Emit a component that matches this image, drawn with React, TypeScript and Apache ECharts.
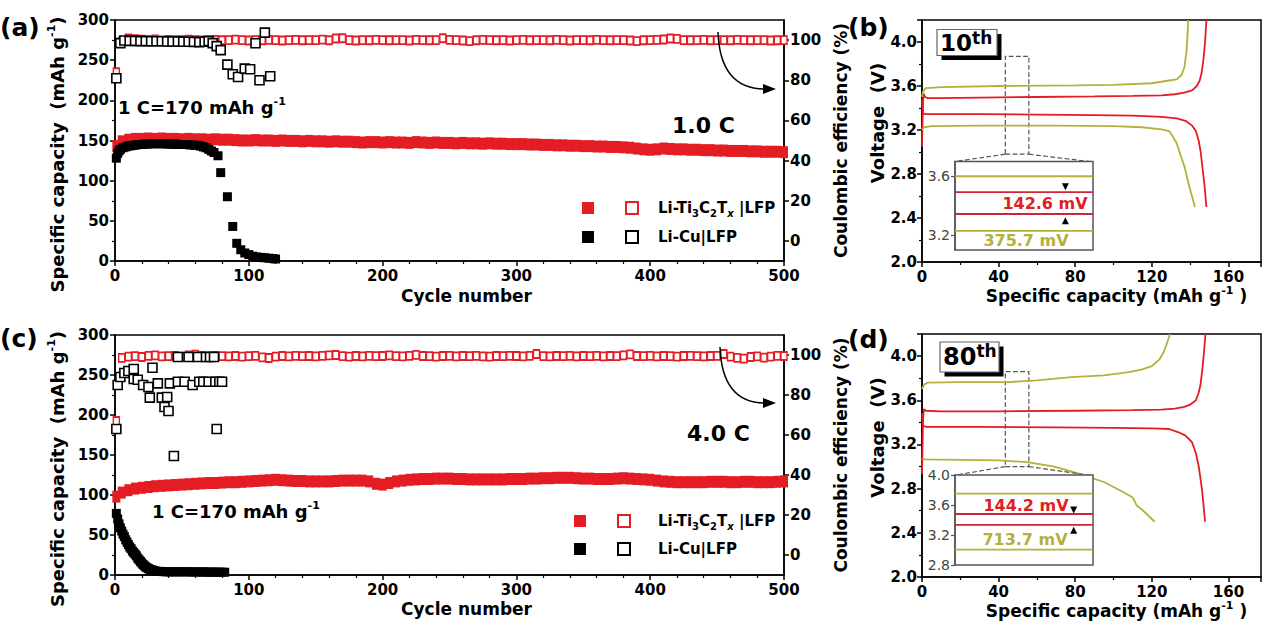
import React, { useEffect, useRef } from 'react';
import * as echarts from 'echarts';

const RED = '#e41c24';
const OLIVE = '#b3b13a';
const INSET_RED = '#cd2638';
const FONT = 'DejaVu Sans';

// ---------------- panels (a)/(c): cycle numbers of the Li-Ti3C2Tx|LFP points ----------------
const cycles5 = [1, 5, 10, 15, 20, 25, 30, 35, 40, 45, 50, 55, 60, 65, 70, 75, 80, 85, 90, 95,
  100, 105, 110, 115, 120, 125, 130, 135, 140, 145, 150, 155, 160, 165, 170, 175, 180, 185, 190, 195,
  200, 205, 210, 215, 220, 225, 230, 235, 240, 245, 250, 255, 260, 265, 270, 275, 280, 285, 290, 295,
  300, 305, 310, 315, 320, 325, 330, 335, 340, 345, 350, 355, 360, 365, 370, 375, 380, 385, 390, 395,
  400, 405, 410, 415, 420, 425, 430, 435, 440, 445, 450, 455, 460, 465, 470, 475, 480, 485, 490, 495, 500];

// (a) 1.0 C
const tiCapA = [143, 149, 151, 152, 152, 152.5, 152, 152.5, 152, 152,
  151.5, 152, 151.5, 151.5, 151, 151.5, 151, 151, 150.5, 150,
  150, 150.5, 150, 150, 149.5, 150, 149.5, 149.5, 149, 149.5,
  149, 149, 148.5, 149, 148.5, 148.5, 148, 147.5, 148, 148,
  147.5, 148, 147.5, 147.5, 147, 148, 147.5, 147, 147.5, 147,
  147, 146.5, 147, 146.5, 146.5, 146, 146.5, 146, 146, 145.5,
  145.5, 145.5, 145, 145, 144.5, 144.5, 144, 144, 143.5, 143.5,
  143, 143, 142.5, 142.5, 142, 142, 141.5, 141, 140, 139,
  138.5, 139, 140, 139.5, 139, 139, 138.5, 138.5, 138, 138,
  137.5, 137.5, 137, 137, 137, 136.5, 136.5, 136, 136, 136,
  135.5];
const tiCeA = [84, 99.2, 100.8, 100.5, 100.2, 100, 100.3, 99.8, 100.1, 100,
  99.9, 100.2, 100, 99.8, 100, 100.1, 99.9, 100, 100.2, 100,
  99.8, 100, 99.9, 100.1, 100, 99.8, 100, 100.1, 99.9, 100,
  100, 100.2, 99.9, 100.8, 100.9, 100, 99.8, 100, 99.9, 100.1,
  100, 99.9, 100, 100, 99.8, 100.1, 100, 99.9, 100, 100.9,
  100.1, 100, 99.8, 99.5, 99.9, 100.1, 100, 99.9, 100, 99.8,
  100, 100.1, 99.9, 100, 100, 99.9, 100.1, 100, 99.8, 100,
  100, 99.9, 100.1, 100, 99.9, 100, 100, 99.8, 99.5, 99.9,
  100, 100.1, 100.3, 100.8, 100.6, 100, 99.9, 100, 100.1, 99.9,
  100, 100, 99.9, 100.1, 100, 99.9, 100, 100, 99.8, 99.9,
  100];
const cuCapACycles = [1, 2, 3, 4, 6, 8, 10, 12, 14, 16, 18, 20, 22, 24, 26, 28, 30, 32, 34, 36, 38, 40,
  42, 44, 46, 48, 50, 52, 54, 56, 58, 60, 62, 64, 66, 68, 70, 72, 74,
  77, 79, 84, 88, 91, 94, 97, 100, 103, 106, 109, 112, 115, 118, 120];
const cuCapA = [128, 134, 137, 139, 141, 142, 143, 143.5, 144, 144.5, 145, 145, 145.5, 145.5,
  146, 146, 146, 146, 146, 146, 146, 145.5, 145.5, 145.5, 145.5, 145, 145, 145, 145,
  144.5, 144.5, 144, 144, 143, 142, 141, 139, 137, 135,
  131, 110, 80, 43, 22, 14, 10, 8, 6, 5, 4.5, 4, 3.5, 3, 2.5];
const cuCeACycles = [1, 4, 7, 11, 15, 19, 23, 27, 31, 35, 39, 43, 47, 51, 55, 59, 63, 67, 70, 73,
  76, 79, 84, 88, 92, 97, 101, 105, 108, 112, 116];
const cuCeA = [81, 98.5, 99.8, 99.6, 99.6, 99.5, 99.5, 99.4, 99.4, 99.4, 99.3, 99.3, 99.3, 99.2, 99.2,
  99.1, 99, 99.2, 99.5, 98.5, 97, 95, 87.8, 83, 81.6, 85.8, 85.5, 98.4, 80, 103.7, 82];

// (c) 4.0 C
const tiCapC = [98, 103, 106, 108, 109, 110, 111, 111.5, 112, 112.5,
  113, 113.5, 114, 114.5, 115, 115, 115.5, 116, 116, 116.5,
  117, 117.5, 118, 118.5, 119, 118.5, 118, 117.5, 117.5, 117,
  117, 117, 117, 117.5, 118, 118, 118, 118, 117, 114,
  113, 115, 117, 118, 119, 119.5, 120, 120, 120.5, 120.5,
  120.5, 120, 120, 119.5, 119.5, 119.5, 119.5, 119.5, 119.5, 120,
  120, 120, 120.5, 120.5, 121, 121, 121.5, 121.5, 121.5, 121,
  120.5, 120.5, 120, 120, 120, 120.5, 121, 120.5, 120, 119.5,
  119, 118, 117, 116.5, 116, 116, 116, 116, 116, 116.5,
  116.5, 116.5, 116, 116, 116.5, 116.5, 116, 116, 116, 116.5,
  117];
const tiCeC = [67, 98.6, 99.2, 99.4, 99, 99.6, 99.8, 99.3, 99.4, 99.6,
  99.2, 99.8, 100.2, 99.5, 99.3, 99.6, 99.4, 99.3, 99.5, 99.2,
  99.4, 99.6, 98.8, 98.5, 99.2, 99.5, 99.3, 99.6, 99.4, 99.5,
  99.3, 99.6, 99.8, 100, 99.4, 99.2, 99.5, 99.3, 99.6, 99.4,
  99.5, 99.8, 99.4, 99.3, 99.6, 100.1, 99.5, 99.4, 99.2, 99.5,
  99.6, 99.3, 99.5, 99.4, 99.6, 99.3, 99.2, 99.5, 99.4, 99.6,
  99.5, 99.3, 99.6, 100.5, 99.4, 99.3, 99.5, 99.4, 99.6, 99.3,
  99.5, 99.4, 99.6, 99.3, 99.5, 99.4, 99.8, 100.3, 99.5, 99.4,
  99.6, 99.3, 99.5, 99.4, 99.2, 99.5, 99.6, 99.4, 99.3, 99.5,
  99.6, 100.5, 99.2, 98.6, 98.2, 99, 99.3, 98.7, 99.2, 99.6,
  99.5];
const cuCapCCycles = [1, 2, 3, 4, 5, 6, 7, 8, 9, 10, 11, 12, 13, 14, 15, 16, 17, 18, 19, 20,
  21, 22, 23, 24, 25, 26, 27, 28, 29, 30,
  32, 34, 36, 38, 40, 42, 44, 46, 48, 50, 52, 54, 56, 58, 60, 62, 64, 66, 68, 70, 72, 74, 76, 78, 80, 82];
const cuCapC = [77, 70, 64, 59, 55, 51, 48, 44, 41, 38, 35, 33, 30, 28, 26, 24, 21, 19, 17, 15,
  13, 11.5, 10, 9, 8, 7, 6.5, 6, 5.5, 5,
  4.5, 4.5, 4.2, 4, 4, 4, 4, 4, 4, 4, 4, 4, 4, 3.8, 3.8, 3.8, 3.8, 3.8, 3.8, 3.6, 3.6, 3.6, 3.6, 3.5, 3.5, 3.5];
const cuCeCCycles = [1, 2, 4, 7, 10, 14, 14, 17, 21, 25, 26, 28, 32, 35, 37, 39, 40, 41, 44, 47,
  47, 52, 55, 58, 62, 63, 66, 68, 70, 71, 74, 75, 76, 78, 80];
const cuCeC = [63, 85, 89, 91, 92, 88, 93, 87.6, 85, 84, 78.7, 93.6, 85.8, 78.7, 74, 79, 72, 85.8, 49.5, 99,
  86.6, 86.6, 99, 85, 99, 86.6, 86.6, 99, 86.6, 99, 99, 86.6, 63, 86.6, 86.6];

// ---------------- panels (b)/(d): voltage profiles [capacity, voltage] ----------------
const b10RedCharge = [[0, 3.05], [0.3, 3.3], [0.6, 3.48], [1, 3.53], [1.5, 3.5], [3, 3.49], [10, 3.49], [30, 3.495],
  [60, 3.5], [90, 3.505], [110, 3.51], [125, 3.515], [132, 3.525], [137, 3.54], [141, 3.56], [143.5, 3.6],
  [145, 3.65], [146, 3.72], [147, 3.85], [147.8, 4.0], [148.5, 4.2]];
const b10RedDischarge = [[0, 3.48], [0.5, 3.36], [1, 3.345], [5, 3.345], [30, 3.345], [60, 3.34], [90, 3.335],
  [110, 3.33], [125, 3.32], [133, 3.305], [138, 3.28], [141, 3.24], [143, 3.19], [144.5, 3.1], [145.5, 3.0],
  [146.5, 2.85], [147.5, 2.7], [148.5, 2.5]];
const b10OliveCharge = [[0, 3.5], [0.5, 3.55], [2, 3.58], [10, 3.59], [40, 3.6], [80, 3.605], [100, 3.61],
  [120, 3.625], [129, 3.65], [133, 3.66], [135.5, 3.7], [137, 3.77], [138, 3.9], [138.6, 4.05], [139, 4.2]];
const b10OliveDischarge = [[0, 3.2], [1, 3.225], [5, 3.235], [30, 3.24], [70, 3.24], [100, 3.235], [115, 3.225],
  [125, 3.205], [129, 3.19], [131, 3.14], [133, 3.08], [135, 2.97], [137, 2.87], [139.5, 2.69], [142.5, 2.5]];

const d80RedCharge = [[0, 2.93], [0.3, 3.2], [0.6, 3.45], [1, 3.52], [2, 3.505], [10, 3.5], [40, 3.5], [80, 3.505],
  [110, 3.51], [125, 3.515], [132, 3.525], [137, 3.54], [140, 3.56], [143, 3.6], [144.5, 3.67], [145.5, 3.75],
  [146.5, 3.9], [147.3, 4.05], [148, 4.2]];
const d80RedDischarge = [[0, 3.48], [0.5, 3.37], [2, 3.36], [30, 3.36], [70, 3.355], [100, 3.35], [120, 3.345],
  [129, 3.34], [134, 3.31], [137.6, 3.28], [141, 3.22], [143, 3.12], [144.5, 3.0], [145.5, 2.88], [146.2, 2.79],
  [147, 2.65], [147.8, 2.5]];
const d80OliveCharge = [[0, 3.7], [1, 3.74], [3, 3.76], [20, 3.765], [45, 3.765], [60, 3.78], [78, 3.81], [95, 3.825],
  [108, 3.855], [115, 3.88], [120, 3.91], [124, 3.97], [126, 4.03], [128, 4.12], [129.5, 4.2]];
const d80OliveDischarge = [[0, 3.07], [2, 3.065], [20, 3.06], [40, 3.055], [55, 3.04], [69, 3.0], [81, 2.94],
  [95, 2.86], [105, 2.77], [110, 2.72], [112, 2.65], [115.5, 2.6], [121.5, 2.5]];

// inset plateau voltages (upper, lower)
const insetBOlive = [3.6, 3.23];
const insetBRed = [3.492, 3.344];
const insetDOlive = [3.751, 3.004];
const insetDRed = [3.48, 3.334];

// tick labels
const ceTicks = [0, 20, 40, 60, 80, 100];
const insetBTicks = [3.2, 3.6];
const insetDTicks = [2.8, 3.2, 3.6, 4.0];

const zip = (xs: number[], ys: number[]) => xs.map((x, i) => [x, ys[i]]);

const richE = (size: number, color = '#000') => ({
  t: { fontFamily: FONT, fontWeight: 'bold', fontSize: size, color, lineHeight: Math.round(size * 1.3) },
  s: { fontFamily: FONT, fontWeight: 'bold', fontSize: Math.round(size * 0.62), color, verticalAlign: 'top', lineHeight: Math.round(size * 0.75) },
});
const richZ = (size: number, fill = '#000') => ({
  t: { fontFamily: FONT, fontWeight: 'bold', fontSize: size, fill, lineHeight: Math.round(size * 1.3) },
  s: { fontFamily: FONT, fontWeight: 'bold', fontSize: Math.round(size * 0.62), fill, verticalAlign: 'top', lineHeight: Math.round(size * 0.75) },
});

const axisLine = { show: true, onZero: false, lineStyle: { color: '#000', width: 1.5 } };
const tick = { show: true, length: 5, lineStyle: { color: '#000', width: 1.5 } };
const lbl = { color: '#000', fontFamily: FONT, fontWeight: 'bold', fontSize: 15 };

const cycleAxis = (gridIndex: number, nameGap: number) => ({
  type: 'value', gridIndex, min: 0, max: 500, interval: 100,
  axisLine, axisTick: tick,
  minorTick: { show: true, splitNumber: 5, length: 3, lineStyle: { color: '#000', width: 1.2 } },
  axisLabel: { ...lbl, margin: 7 },
  splitLine: { show: false },
  name: 'Cycle number', nameLocation: 'middle', nameGap,
  nameTextStyle: { color: '#000', fontFamily: FONT, fontWeight: 'bold', fontSize: 17, padding: [0, 0, 0, 34] },
});
const capAxis = (gridIndex: number) => ({
  type: 'value', gridIndex, min: 0, max: 300, interval: 50, position: 'left',
  axisLine, axisTick: tick,
  minorTick: { show: true, splitNumber: 2, length: 3, lineStyle: { color: '#000', width: 1.2 } },
  axisLabel: { ...lbl, margin: 6 },
  splitLine: { show: false },
  name: '{t|Specific capacity  (mAh g}{s|-1}{t|)}', nameLocation: 'middle', nameGap: 38, nameRotate: 90,
  nameTextStyle: { rich: richE(18), padding: [0, 28, 0, 0] },
});
const ceAxis = (gridIndex: number) => ({
  type: 'value', gridIndex, min: -10, max: 110, position: 'right',
  axisLine, axisTick: { ...tick, customValues: ceTicks },
  axisLabel: { ...lbl, margin: 6, customValues: ceTicks },
  splitLine: { show: false },
  name: 'Coulombic efficiency (%)', nameLocation: 'middle', nameGap: 33, nameRotate: 90,
  nameTextStyle: { color: '#000', fontFamily: FONT, fontWeight: 'bold', fontSize: 17 },
});
const specAxis = (gridIndex: number, nameGap: number) => ({
  type: 'value', gridIndex, min: 0, max: 177, interval: 40,
  axisLine, axisTick: tick,
  minorTick: { show: true, splitNumber: 2, length: 3, lineStyle: { color: '#000', width: 1.2 } },
  axisLabel: { ...lbl, margin: 7, formatter: (v: number) => (v > 170 ? '' : String(Math.round(v))) },
  splitLine: { show: false },
  name: '{t|Specific capacity (mAh g}{s|-1}{t| )}', nameLocation: 'middle', nameGap,
  nameTextStyle: { rich: richE(17), padding: [0, 0, 0, 50] },
});
const voltAxis = (gridIndex: number) => ({
  type: 'value', gridIndex, min: 2.0, max: 4.2, interval: 0.4,
  axisLine, axisTick: tick,
  minorTick: { show: true, splitNumber: 2, length: 3, lineStyle: { color: '#000', width: 1.2 } },
  axisLabel: { ...lbl, margin: 5, formatter: (v: number) => (v > 4.1 ? '' : v.toFixed(1)) },
  splitLine: { show: false },
  name: 'Voltage  (V)', nameLocation: 'middle', nameGap: 31, nameRotate: 90,
  nameTextStyle: { color: '#000', fontFamily: FONT, fontWeight: 'bold', fontSize: 18, padding: [0, 0, 0, 36] },
});
const insetX = (gridIndex: number) => ({
  type: 'value', gridIndex, min: 0, max: 100, z: 12,
  axisLine: { show: false }, axisTick: { show: false }, axisLabel: { show: false }, splitLine: { show: false },
});
const insetY = (gridIndex: number, min: number, max: number, ticks: number[]) => ({
  type: 'value', gridIndex, min, max, z: 12,
  axisLine: { show: true, onZero: false, lineStyle: { color: '#555', width: 1.5 } },
  axisTick: { show: true, length: 4, customValues: ticks, lineStyle: { color: '#555', width: 1.2 } },
  axisLabel: { customValues: ticks, color: '#444', fontFamily: FONT, fontWeight: 'normal', fontSize: 14, margin: 5, formatter: (v: number) => v.toFixed(1) },
  splitLine: { show: false },
});

const NAMES = {
  tiCap: 'Li-Ti3C2Tx|LFP capacity',
  tiCe: 'Li-Ti3C2Tx|LFP coulombic efficiency',
  cuCap: 'Li-Cu|LFP capacity',
  cuCe: 'Li-Cu|LFP coulombic efficiency',
};

const filledSq = (name: string, xi: number, yi: number, data: number[][], color: string, size: any) => ({
  type: 'scatter', name, xAxisIndex: xi, yAxisIndex: yi, data, symbol: 'rect', symbolSize: size,
  itemStyle: { color, opacity: 1 }, z: 3,
});
const openSq = (name: string, xi: number, yi: number, data: number[][], color: string, size: any) => ({
  type: 'scatter', name, xAxisIndex: xi, yAxisIndex: yi, data, symbol: 'rect', symbolSize: size,
  itemStyle: { color: '#fff', borderColor: color, borderWidth: 1.6, opacity: 1 }, z: 3,
});
const curve = (name: string, xi: number, yi: number, data: number[][], color: string, extra: any = {}) => ({
  type: 'line', name, xAxisIndex: xi, yAxisIndex: yi, data, showSymbol: false, symbol: 'none',
  lineStyle: { color, width: 1.8 }, itemStyle: { color }, z: 3, ...extra,
});
const hLine = (name: string, xi: number, yi: number, v: number, color: string) => ({
  type: 'line', name, xAxisIndex: xi, yAxisIndex: yi, data: [[0, v], [100, v]], showSymbol: false, symbol: 'none',
  lineStyle: { color, width: 1.8 }, itemStyle: { color }, z: 12, silent: true,
});
const zoomMarks = (rectA: number[], rectB: number[], insetL: number[], insetR: number[]) => ({
  markArea: {
    silent: true,
    itemStyle: { color: 'rgba(0,0,0,0)', borderColor: '#555', borderWidth: 1.2, borderType: 'dashed' },
    data: [[{ coord: rectA }, { coord: rectB }]],
  },
  markLine: {
    silent: true, symbol: ['none', 'none'], label: { show: false },
    lineStyle: { color: '#555', width: 1.2, type: 'dashed' },
    data: [[{ coord: rectA }, { coord: insetL }], [{ coord: [rectB[0], rectA[1]] }, { coord: insetR }]],
  },
});
const vArrow = (x: number, top: number, bottom: number) => ({
  silent: true, symbol: ['arrow', 'arrow'], symbolSize: 7, label: { show: false },
  lineStyle: { color: '#000', width: 1.2, type: 'solid' },
  data: [[{ coord: [x, top] }, { coord: [x, bottom] }]],
});
const tri = (xi: number, yi: number, pt: number[], down: boolean) => ({
  type: 'scatter', name: down ? 'gap marker down' : 'gap marker up', xAxisIndex: xi, yAxisIndex: yi,
  data: [pt], symbol: 'triangle', symbolSize: 7, symbolRotate: down ? 180 : 0,
  itemStyle: { color: '#000', opacity: 1 }, z: 13, silent: true,
});

const legendRich = {
  g: { width: 15, fontSize: 15, fontFamily: FONT, lineHeight: 20 },
  g2: { width: 23, fontSize: 15, fontFamily: FONT, lineHeight: 20 },
  t: { fontFamily: FONT, fontWeight: 'bold', fontSize: 15, color: '#000', lineHeight: 20 },
  sub: { fontFamily: FONT, fontWeight: 'bold', fontSize: 10, color: '#000', verticalAlign: 'bottom', lineHeight: 13 },
  subi: { fontFamily: FONT, fontWeight: 'bold', fontStyle: 'italic', fontSize: 10, color: '#000', verticalAlign: 'bottom', lineHeight: 13 },
};
const legendText = (gap: string) => (name: string) =>
  name === NAMES.tiCe
    ? `{${gap}| }{t|Li-Ti}{sub|3}{t|C}{sub|2}{t|T}{subi|x}{t| |LFP}`
    : `{${gap}| }{t|Li-Cu|LFP}`;
const legendBase = {
  orient: 'vertical', itemWidth: 12, itemHeight: 12, selectedMode: false, padding: 0,
  textStyle: { fontFamily: FONT, fontWeight: 'bold', fontSize: 15, color: '#000', lineHeight: 20, rich: legendRich },
};

const gtext = (x: number, y: number, text: string, size: number, fill = '#000', extra: any = {}) => ({
  type: 'text', x, y, z: 20,
  style: { text, fontFamily: FONT, fontWeight: 'bold', fontSize: size, fill, verticalAlign: 'middle', textVerticalAlign: 'middle', ...extra },
});
const ordinalBox = (x: number, y: number, w: number, h: number, num: string, numSize: number, supSize: number) => ({
  type: 'group', z: 20,
  children: [
    { type: 'rect', z: 20, shape: { x: x + 4.5, y: y + 4.5, width: w, height: h }, style: { fill: '#000' } },
    { type: 'rect', z: 21, shape: { x, y, width: w, height: h }, style: { fill: '#fff', stroke: '#666', lineWidth: 1.2 } },
    {
      type: 'text', z: 22, x: x + 3, y: y + h / 2,
      style: {
        text: `{n|${num}}{s|th}`, verticalAlign: 'middle', textVerticalAlign: 'middle',
        rich: {
          n: { fontFamily: FONT, fontWeight: 'bold', fontSize: numSize, fill: '#000', lineHeight: h },
          s: { fontFamily: FONT, fontWeight: 'bold', fontSize: supSize, fill: '#000', verticalAlign: 'top', lineHeight: supSize + 2 },
        },
      },
    },
  ],
});
// curved "read the right axis" arrow (pixels)
const curvedArrow = (sx: number, sy: number, ex: number, ey: number) => ({
  type: 'group', z: 20,
  children: [
    { type: 'bezierCurve', z: 20, shape: { x1: sx, y1: sy, cpx1: sx + 2, cpy1: ey, x2: ex - 11, y2: ey },
      style: { stroke: '#000', lineWidth: 1.5, fill: 'none' } },
    { type: 'polygon', z: 20, shape: { points: [[ex, ey], [ex - 13, ey - 5], [ex - 13, ey + 5]] }, style: { fill: '#000' } },
  ],
});

const buildOption = () => ({
  animation: false,
  backgroundColor: '#fff',
  textStyle: { fontFamily: FONT },
  grid: [
    { left: 115, top: 20, width: 669, height: 241, show: true, borderColor: '#000', borderWidth: 1.5, backgroundColor: 'transparent' },
    { left: 922, top: 20, width: 345, height: 242, show: true, borderColor: '#000', borderWidth: 1.5, backgroundColor: 'transparent' },
    { left: 115, top: 335, width: 669, height: 240, show: true, borderColor: '#000', borderWidth: 1.5, backgroundColor: 'transparent' },
    { left: 922, top: 334, width: 345, height: 243, show: true, borderColor: '#000', borderWidth: 1.5, backgroundColor: 'transparent' },
    { left: 955, top: 161.5, width: 138, height: 88.5, show: true, borderColor: '#555', borderWidth: 1.5, backgroundColor: '#fff', z: 10 },
    { left: 955, top: 475, width: 138, height: 90, show: true, borderColor: '#555', borderWidth: 1.5, backgroundColor: '#fff', z: 10 },
  ],
  xAxis: [cycleAxis(0, 26), specAxis(1, 21), cycleAxis(2, 25), specAxis(3, 20), insetX(4), insetX(5)],
  yAxis: [
    capAxis(0), ceAxis(0), voltAxis(1), capAxis(2), ceAxis(2), voltAxis(3),
    insetY(4, 3.1, 3.7, insetBTicks), insetY(5, 2.8, 4.0, insetDTicks),
  ],
  legend: [
    { ...legendBase, left: 582, top: 198, itemGap: 9, data: [NAMES.tiCap, NAMES.cuCap], formatter: () => ' ' },
    { ...legendBase, left: 625, top: 198, itemGap: 9, data: [NAMES.tiCe, NAMES.cuCe], formatter: legendText('g') },
    { ...legendBase, left: 574, top: 511, itemGap: 8, data: [NAMES.tiCap, NAMES.cuCap], formatter: () => ' ' },
    { ...legendBase, left: 617, top: 511, itemGap: 8, data: [NAMES.tiCe, NAMES.cuCe], formatter: legendText('g2') },
  ],
  series: [
    // (a)
    filledSq(NAMES.tiCap, 0, 0, zip(cycles5, tiCapA), RED, [8, 12]),
    openSq(NAMES.tiCe, 0, 1, zip(cycles5, tiCeA), RED, [6, 8]),
    filledSq(NAMES.cuCap, 0, 0, zip(cuCapACycles, cuCapA), '#000', 9),
    openSq(NAMES.cuCe, 0, 1, zip(cuCeACycles, cuCeA), '#000', 9),
    // (c)
    filledSq(NAMES.tiCap, 2, 3, zip(cycles5, tiCapC), RED, [8, 12]),
    openSq(NAMES.tiCe, 2, 4, zip(cycles5, tiCeC), RED, [6, 8]),
    filledSq(NAMES.cuCap, 2, 3, zip(cuCapCCycles, cuCapC), '#000', 9),
    openSq(NAMES.cuCe, 2, 4, zip(cuCeCCycles, cuCeC), '#000', 9),
    // (b) 10th cycle
    curve('Li-Ti3C2Tx|LFP charge 10th', 1, 2, b10RedCharge, RED, zoomMarks([43.5, 2.98], [55.8, 3.87], [16.9, 2.913], [87.7, 2.913])),
    curve('Li-Ti3C2Tx|LFP discharge 10th', 1, 2, b10RedDischarge, RED),
    curve('Li-Cu|LFP charge 10th', 1, 2, b10OliveCharge, OLIVE),
    curve('Li-Cu|LFP discharge 10th', 1, 2, b10OliveDischarge, OLIVE),
    // (d) 80th cycle
    curve('Li-Ti3C2Tx|LFP charge 80th', 3, 5, d80RedCharge, RED, zoomMarks([43.5, 3.0], [55.8, 3.86], [16.9, 2.92], [87.7, 2.92])),
    curve('Li-Ti3C2Tx|LFP discharge 80th', 3, 5, d80RedDischarge, RED),
    curve('Li-Cu|LFP charge 80th', 3, 5, d80OliveCharge, OLIVE),
    curve('Li-Cu|LFP discharge 80th', 3, 5, d80OliveDischarge, OLIVE),
    // inset (b)
    { ...hLine('inset b Li-Cu charge', 4, 6, insetBOlive[0], OLIVE), markLine: vArrow(17.4, insetBOlive[0], insetBOlive[1]) },
    hLine('inset b Li-Cu discharge', 4, 6, insetBOlive[1], OLIVE),
    hLine('inset b Li-Ti3C2Tx charge', 4, 6, insetBRed[0], INSET_RED),
    hLine('inset b Li-Ti3C2Tx discharge', 4, 6, insetBRed[1], INSET_RED),
    tri(4, 6, [80, 3.529], true),
    tri(4, 6, [80, 3.298], false),
    // inset (d)
    { ...hLine('inset d Li-Cu charge', 5, 7, insetDOlive[0], OLIVE), markLine: vArrow(17.4, insetDOlive[0], insetDOlive[1]) },
    hLine('inset d Li-Cu discharge', 5, 7, insetDOlive[1], OLIVE),
    hLine('inset d Li-Ti3C2Tx charge', 5, 7, insetDRed[0], INSET_RED),
    hLine('inset d Li-Ti3C2Tx discharge', 5, 7, insetDRed[1], INSET_RED),
    tri(5, 7, [86, 3.534], true),
    tri(5, 7, [86, 3.262], false),
  ],
  graphic: [
    gtext(0, 27.5, '(a)', 25),
    gtext(848, 27.5, '(b)', 25),
    gtext(0, 338.5, '(c)', 25),
    gtext(848, 339, '(d)', 25),
    gtext(118, 107, '{t|1 C=170 mAh g}{s|-1}', 18, '#000', { rich: richZ(18) }),
    gtext(152, 511.5, '{t|1 C=170 mAh g}{s|-1}', 18, '#000', { rich: richZ(18) }),
    gtext(672, 125, '1.0 C', 22),
    gtext(687, 433, '4.0 C', 22),
    ordinalBox(937, 29.5, 60, 26, '10', 23, 17),
    ordinalBox(940, 342, 59, 30, '80', 24, 17),
    curvedArrow(718, 32, 776, 89),
    curvedArrow(720, 347, 776, 403),
    gtext(1045, 203.5, '142.6 mV', 16, RED, { align: 'center', textAlign: 'center' }),
    gtext(1026, 240, '375.7 mV', 16, OLIVE, { align: 'center', textAlign: 'center' }),
    gtext(1026, 505, '144.2 mV', 16, RED, { align: 'center', textAlign: 'center' }),
    gtext(1025, 539, '713.7 mV', 16, OLIVE, { align: 'center', textAlign: 'center' }),
  ],
});

export default function App() {
  const ref = useRef<HTMLDivElement>(null);
  useEffect(() => {
    document.body.style.margin = '0';
    if (!ref.current) return;
    const chart = echarts.init(ref.current, undefined, { renderer: 'svg' });
    chart.setOption(buildOption() as any);
    return () => chart.dispose();
  }, []);
  return <div ref={ref} style={{ width: 1264, height: 622 }} />;
}
